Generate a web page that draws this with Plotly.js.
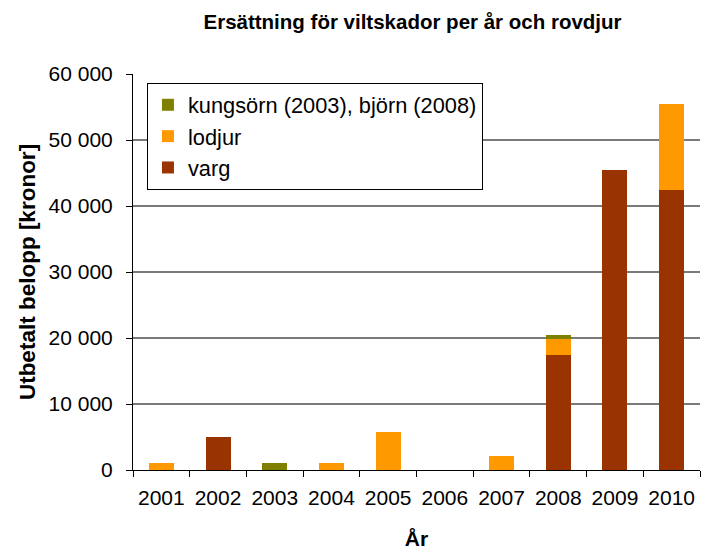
<!DOCTYPE html>
<html>
<head>
<meta charset="utf-8">
<script src="https://cdn.plot.ly/plotly-3.0.1.min.js"></script>
<style>html,body{margin:0;padding:0;background:#fff;}#chart{width:702px;height:550px;}</style>
</head>
<body>
<div id="chart"></div>
<script>
const years = ["2001","2002","2003","2004","2005","2006","2007","2008","2009","2010"];
const varg = [0, 5000, 0, 0, 0, 0, 0, 17500, 45500, 42500];
const lodjur = [1000, 0, 0, 1000, 5700, 0, 2100, 2400, 0, 13000];
const kungsornBjorn = [0, 0, 1000, 0, 0, 0, 0, 600, 0, 0];
const seriesNames = ["varg", "lodjur", "kungsörn (2003), björn (2008)"];
const yTicks = [0, 10000, 20000, 30000, 40000, 50000, 60000];

const font = "Liberation Sans, Arial, sans-serif";
const traces = [
  {type:"bar", name:seriesNames[0], x:years, y:varg, marker:{color:"#993300"}, legendgroup:"a"},
  {type:"bar", name:seriesNames[1], x:years, y:lodjur, marker:{color:"#FF9900"}, legendgroup:"b"},
  {type:"bar", name:seriesNames[2], x:years, y:kungsornBjorn, marker:{color:"#808000"}, legendgroup:"c"}
];
const layout = {
  width:702, height:550,
  margin:{l:133, r:2, t:74, b:80},
  barmode:"stack", bargap:0.56,
  separators:", ",
  paper_bgcolor:"#fff", plot_bgcolor:"#fff",
  font:{family:font, size:21, color:"#000"},
  title:{text:"<b>Ersättning för viltskador per år och rovdjur</b>", x:0.493, xref:"paper", y:0.96, yref:"container", yanchor:"middle", font:{size:20.5, family:font}},
  xaxis:{type:"category", showline:true, linecolor:"#000", linewidth:1, ticks:"outside", tickson:"boundaries", ticklen:6, tickcolor:"#000",
         ticklabelstandoff:9,
         title:{text:"<b>År</b>", standoff:24, font:{size:21}}, tickfont:{size:21}, automargin:false},
  yaxis:{range:[0,60000], tickvals:yTicks, tickformat:",d", showline:true, linecolor:"#000", linewidth:1, ticks:"outside", ticklen:6, tickcolor:"#000",
         ticklabelstandoff:9,
         gridcolor:"#7a7a7a", gridwidth:1.5, zeroline:false,
         title:{text:"<b>Utbetalt belopp [kronor]</b>", standoff:6, font:{size:22.5}}, tickfont:{size:21}, automargin:false},
  legend:{x:0.0246, y:0.977, xanchor:"left", yanchor:"top", traceorder:"reversed", bgcolor:"#fff", bordercolor:"#000", borderwidth:1,
          font:{size:21.8}, tracegroupgap:13, itemwidth:30}
};
Plotly.newPlot("chart", traces, layout, {displayModeBar:false, staticPlot:true});
</script>
</body>
</html>
